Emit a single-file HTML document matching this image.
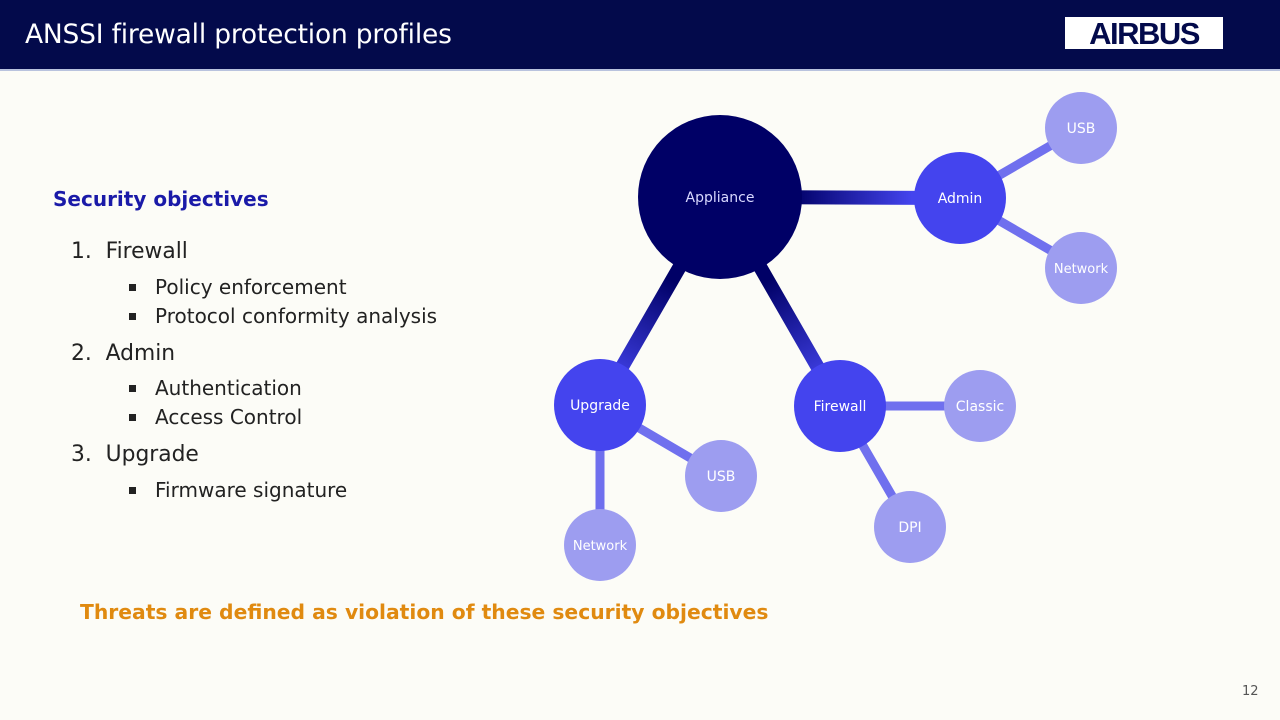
<!DOCTYPE html>
<html><head><meta charset="utf-8"><style>
body{margin:0;width:1280px;height:720px;background:#fcfcf7;font-family:"DejaVu Sans","Liberation Sans",sans-serif;position:relative;overflow:hidden}
.hdr{position:absolute;left:0;top:0;width:1280px;height:69px;background:#030a4b;border-bottom:2px solid #b9c3de}
.hdr h1{position:absolute;left:25px;top:19px;margin:0;font-size:26.5px;font-weight:normal;color:#fff;letter-spacing:-0.2px}
.logo{position:absolute;left:1065px;top:17px;width:158px;height:32px;background:#fff;color:#030a4b;font:bold 31px/33px "Liberation Sans",sans-serif;text-align:center;letter-spacing:-1.5px}
.t{position:absolute;white-space:nowrap;color:#222;font-size:21.8px}
.b{font-size:20px;left:155px}
.b:before{content:"";position:absolute;left:-26px;top:9px;width:7px;height:7px;background:#222}
</style></head><body>
<div class="hdr"><h1>ANSSI firewall protection profiles</h1><div class="logo">AIRBUS</div></div>
<div class="t" style="left:53px;top:187px;color:#1a1aa8;font-weight:bold;font-size:20px">Security objectives</div>
<div class="t" style="left:71px;top:239px">1.&nbsp; Firewall</div>
<div class="t b" style="top:275px">Policy enforcement</div>
<div class="t b" style="top:304px">Protocol conformity analysis</div>
<div class="t" style="left:71px;top:341px">2.&nbsp; Admin</div>
<div class="t b" style="top:376px">Authentication</div>
<div class="t b" style="top:405px">Access Control</div>
<div class="t" style="left:71px;top:442px">3.&nbsp; Upgrade</div>
<div class="t b" style="top:478px">Firmware signature</div>
<div class="t" style="left:80px;top:600px;color:#e08a10;font-weight:bold;font-size:20.3px">Threats are defined as violation of these security objectives</div>
<div class="t" style="left:1242px;top:684px;font-size:13px;color:#555">12</div>
<svg width="1280" height="720" style="position:absolute;left:0;top:0">
<defs>
<linearGradient id="g1" gradientUnits="userSpaceOnUse" x1="720" y1="197" x2="960" y2="198"><stop offset="0.3" stop-color="#000066"/><stop offset="0.8" stop-color="#4444ee"/></linearGradient>
<linearGradient id="g2" gradientUnits="userSpaceOnUse" x1="720" y1="197" x2="600" y2="405"><stop offset="0.4" stop-color="#000066"/><stop offset="0.9" stop-color="#4444ee"/></linearGradient>
<linearGradient id="g3" gradientUnits="userSpaceOnUse" x1="720" y1="197" x2="840" y2="406"><stop offset="0.4" stop-color="#000066"/><stop offset="0.9" stop-color="#4444ee"/></linearGradient>
</defs>
<g stroke-linecap="round">
<line x1="720" y1="197" x2="960" y2="198" stroke="url(#g1)" stroke-width="14"/>
<line x1="720" y1="197" x2="600" y2="405" stroke="url(#g2)" stroke-width="14"/>
<line x1="720" y1="197" x2="840" y2="406" stroke="url(#g3)" stroke-width="14"/>
<g stroke="#7070ee" stroke-width="9">
<line x1="960" y1="198" x2="1081" y2="128"/><line x1="960" y1="198" x2="1081" y2="268"/>
<line x1="840" y1="406" x2="980" y2="406"/><line x1="840" y1="406" x2="910" y2="527"/>
<line x1="600" y1="405" x2="721" y2="476"/><line x1="600" y1="405" x2="600" y2="545"/>
</g></g>
<circle cx="720" cy="197" r="82" fill="#000066"/>
<g fill="#4444ee"><circle cx="960" cy="198" r="46"/><circle cx="600" cy="405" r="46"/><circle cx="840" cy="406" r="46"/></g>
<g fill="#9d9df0"><circle cx="1081" cy="128" r="36"/><circle cx="1081" cy="268" r="36"/><circle cx="980" cy="406" r="36"/><circle cx="910" cy="527" r="36"/><circle cx="721" cy="476" r="36"/><circle cx="600" cy="545" r="36"/></g>
<g fill="#fff" font-family="DejaVu Sans,sans-serif" font-size="14" text-anchor="middle">
<text x="720" y="202" fill="#d8d8ff">Appliance</text>
<text x="960" y="203">Admin</text><text x="600" y="410">Upgrade</text><text x="840" y="411">Firewall</text>
<text x="1081" y="133">USB</text><text x="1081" y="273" font-size="13">Network</text><text x="980" y="411">Classic</text>
<text x="910" y="532">DPI</text><text x="721" y="481">USB</text><text x="600" y="550" font-size="13">Network</text>
</g></svg>
</body></html>
